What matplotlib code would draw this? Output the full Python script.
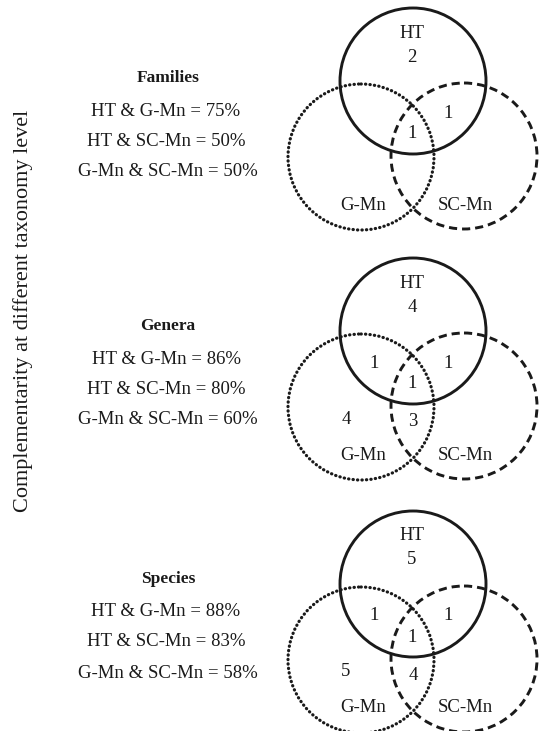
import matplotlib
matplotlib.use('Agg')
import matplotlib.pyplot as plt
from matplotlib.patches import Circle

plt.rcParams['font.family'] = ['Liberation Serif', 'DejaVu Serif']

# taxonomy levels and complementarity values
levels = ['Families', 'Genera', 'Species']
ht_gmn = [75, 86, 88]
ht_scmn = [50, 80, 83]
gmn_scmn = [50, 60, 58]

# venn region counts per level (None = empty region)
only_ht = [2, 4, 5]
ht_and_gmn = [None, 1, 1]
ht_and_scmn = [1, 1, 1]
all_three = [1, 1, 1]
only_gmn = [None, 4, 5]
gmn_and_scmn = [None, 3, 4]

# panel layout in pixels (centre of each HT circle)
panel_y = [81, 331, 584]
text_y = [78, 326, 579]
R = 73
fs = 13.5
ink = '#1a1a1a'

fig = plt.figure(figsize=(5.41, 7.31), dpi=100)
ax = fig.add_axes([0, 0, 1, 1])
ax.set_xlim(0, 541)
ax.set_ylim(731, 0)
ax.set_aspect('equal')
ax.axis('off')

for i, lev in enumerate(levels):
    cy = panel_y[i]
    # circles
    ax.add_patch(Circle((413, cy), R, fill=False, lw=2.1, color=ink))
    dotted = Circle((361, cy + 76), R, fill=False, lw=2.3, color=ink,
                    linestyle=(0, (0.1, 1.3)))
    dotted.set_capstyle('round')
    ax.add_patch(dotted)
    ax.add_patch(Circle((464, cy + 75), R, fill=False, lw=2.1, color=ink,
                        linestyle=(0, (2.8, 1.7))))

    # labels in the circles
    ax.text(412, cy - 48, 'HT', ha='center', va='center', fontsize=fs, color=ink)
    ax.text(412, cy - 24, str(only_ht[i]), ha='center', va='center', fontsize=fs, color=ink)
    if ht_and_gmn[i] is not None:
        ax.text(374, cy + 32, str(ht_and_gmn[i]), ha='center', va='center', fontsize=fs, color=ink)
    ax.text(448, cy + 32, str(ht_and_scmn[i]), ha='center', va='center', fontsize=fs, color=ink)
    ax.text(412, cy + 53, str(all_three[i]), ha='center', va='center', fontsize=fs, color=ink)
    if only_gmn[i] is not None:
        ax.text(346, cy + 88, str(only_gmn[i]), ha='center', va='center', fontsize=fs, color=ink)
    if gmn_and_scmn[i] is not None:
        ax.text(413, cy + 91, str(gmn_and_scmn[i]), ha='center', va='center', fontsize=fs, color=ink)
    ax.text(363, cy + 124, 'G-Mn', ha='center', va='center', fontsize=fs, color=ink)
    ax.text(465, cy + 124, 'SC-Mn', ha='center', va='center', fontsize=fs, color=ink)

    # complementarity text
    ty = text_y[i]
    ax.text(168, ty, lev, ha='center', va='center', fontsize=12.5, fontweight='bold', color=ink)
    ax.text(166, ty + 33, 'HT & G-Mn = ' + str(ht_gmn[i]) + '%', ha='center', va='center', fontsize=fs, color=ink)
    ax.text(166, ty + 63, 'HT & SC-Mn = ' + str(ht_scmn[i]) + '%', ha='center', va='center', fontsize=fs, color=ink)
    ax.text(168, ty + 94, 'G-Mn & SC-Mn = ' + str(gmn_scmn[i]) + '%', ha='center', va='center', fontsize=fs, color=ink)

ax.text(23, 311, 'Complementarity at different taxonomy level', rotation=90,
        ha='center', va='center', fontsize=16, color=ink)

plt.savefig('out.png', dpi=100)
plt.close('all')
